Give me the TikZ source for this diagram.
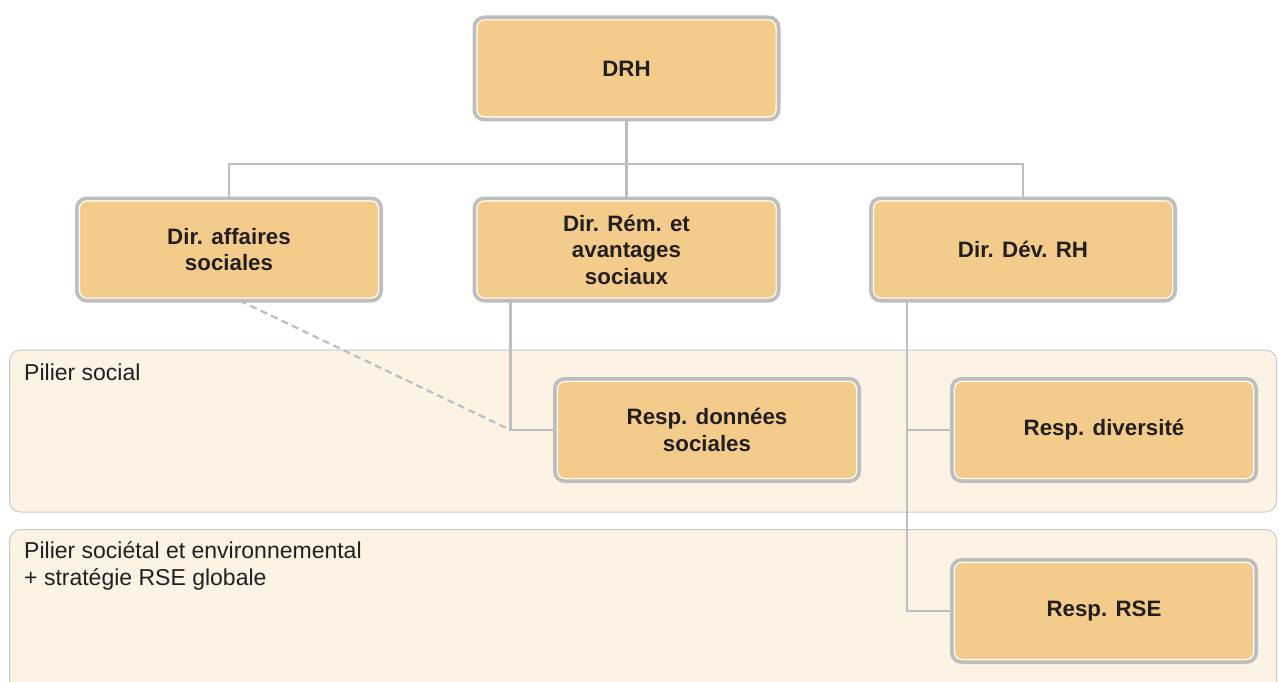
\documentclass[tikz,border=0pt]{standalone}
\usepackage{fontspec}
\setmainfont{Liberation Sans}
\begin{document}
\pgfdeclarelayer{panel}
\pgfdeclarelayer{conn}
\pgfsetlayers{panel,conn,main}
\definecolor{boxfill}{HTML}{F3CC8B}
\definecolor{panelfill}{HTML}{FCF3E4}
\definecolor{linegray}{HTML}{BDBEC0}
\definecolor{panelgray}{HTML}{C9C9CB}
\definecolor{txt}{HTML}{231F20}
\begin{tikzpicture}[x=1pt,y=1pt,
  orgbox/.style={rectangle, rounded corners=10pt, draw=linegray, line width=3.5pt,
    fill=boxfill, minimum width=304.5pt, minimum height=102.5pt, outer sep=0pt,
    align=center, text=txt, font=\fontsize{22.3}{26.5}\selectfont\bfseries},
  panelbox/.style={draw=panelgray, line width=1pt, fill=panelfill, rounded corners=11pt},
  paneltext/.style={anchor=base west, inner sep=0pt, text=txt, align=left,
    font=\fontsize{23}{27}\selectfont},
  conn/.style={draw=linegray, line width=2.2pt},
  dashconn/.style={draw=linegray, line width=2.2pt, dash pattern=on 7pt off 4.5pt}]
\useasboundingbox (0,0) rectangle (1279,-682);
\clip (0,0) rectangle (1279,-682);
% panels
\begin{pgfonlayer}{panel}
\draw[panelbox] (9.5,-350) rectangle (1276.5,-512);
\draw[panelbox] (9.5,-529.5) rectangle (1276.5,-720);
\end{pgfonlayer}
\node[paneltext] (p1) at (24,-380) {Pilier social};
\node[paneltext] (p2) at (24,-585) {Pilier sociétal et environnemental\\+ stratégie RSE globale};
% boxes
\node[orgbox] (drh) at (626.5,-68.5) {DRH};
\node[orgbox] (a) at (229,-249.5) {Dir. affaires\\sociales};
\node[orgbox] (b) at (626.5,-249.5) {Dir. Rém. et\\avantages\\sociaux};
\node[orgbox] (c) at (1023,-249.5) {Dir. Dév. RH};
\node[orgbox] (d) at (707,-430) {Resp. données\\sociales};
\node[orgbox] (e) at (1104,-430) {Resp. diversité};
\node[orgbox] (f) at (1104,-611) {Resp. RSE};
\foreach \n in {drh,a,b,c,d,e,f}
  \draw[white, line width=1.1pt, rounded corners=7.5pt]
    ([xshift=2.7pt,yshift=-2.7pt]\n.north west) rectangle ([xshift=-2.7pt,yshift=2.7pt]\n.south east);
% connectors
\coordinate (bar) at (0,-164);
\coordinate (dj) at (510.5,-430);
\begin{pgfonlayer}{conn}
\draw[conn] (drh.south) -- (drh.south |- bar);
\draw[conn] (a.north) -- (a.north |- bar) -- (c.north |- bar) -- (c.north);
\draw[conn] (b.north) -- (b.north |- bar);
\draw[conn] ([xshift=-116pt]b.south) -- (dj) -- (d.west);
\draw[dashconn] ([xshift=11pt]a.south) -- (dj);
\draw[conn] ([xshift=-116pt]c.south) |- (f.west);
\draw[conn] ([xshift=-116pt]c.south |- e.west) -- (e.west);
\end{pgfonlayer}
\end{tikzpicture}
\end{document}
